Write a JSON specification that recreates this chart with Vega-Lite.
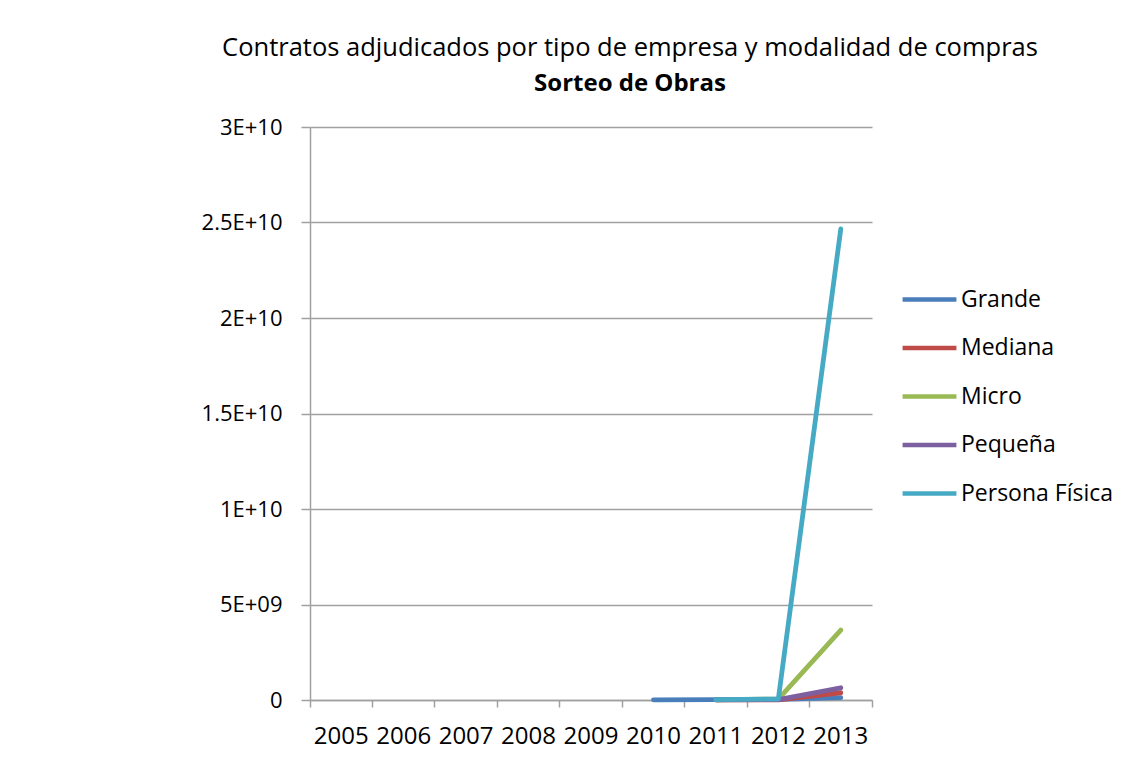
{
  "$schema": "https://vega.github.io/schema/vega-lite/v6.json",
  "autosize": "none",
  "width": 562,
  "height": 573,
  "padding": {"left": 310, "top": 127, "right": 259, "bottom": 80},
  "background": "white",
  "config": {
    "font": "Open Sans",
    "view": {"stroke": null}
  },
  "title": {
    "text": "Contratos adjudicados por tipo de empresa y modalidad de compras",
    "subtitle": "Sorteo de Obras",
    "anchor": "middle",
    "frame": "group",
    "dx": 39,
    "fontSize": 25.5,
    "fontWeight": "normal",
    "color": "#000000",
    "subtitleFontSize": 24,
    "subtitleFontWeight": "bold",
    "subtitleColor": "#000000",
    "subtitlePadding": 11,
    "offset": 20
  },
  "data": {
    "values": [
      {"year": "2010", "tipo": "Grande", "monto": 10000000},
      {"year": "2011", "tipo": "Grande", "monto": 20000000},
      {"year": "2012", "tipo": "Grande", "monto": 30000000},
      {"year": "2013", "tipo": "Grande", "monto": 120000000},
      {"year": "2011", "tipo": "Mediana", "monto": 5000000},
      {"year": "2012", "tipo": "Mediana", "monto": 10000000},
      {"year": "2013", "tipo": "Mediana", "monto": 380000000},
      {"year": "2011", "tipo": "Micro", "monto": 10000000},
      {"year": "2012", "tipo": "Micro", "monto": 50000000},
      {"year": "2013", "tipo": "Micro", "monto": 3660000000},
      {"year": "2011", "tipo": "Pequeña", "monto": 10000000},
      {"year": "2012", "tipo": "Pequeña", "monto": 20000000},
      {"year": "2013", "tipo": "Pequeña", "monto": 640000000},
      {"year": "2011", "tipo": "Persona Física", "monto": 20000000},
      {"year": "2012", "tipo": "Persona Física", "monto": 50000000},
      {"year": "2013", "tipo": "Persona Física", "monto": 24660000000}
    ]
  },
  "mark": {"type": "line", "strokeWidth": 4.8, "strokeCap": "round", "strokeJoin": "round"},
  "encoding": {
    "x": {
      "field": "year",
      "type": "ordinal",
      "bandPosition": 0.5,
      "scale": {"type": "band", "paddingInner": 0, "paddingOuter": 0, "domain": ["2005","2006","2007","2008","2009","2010","2011","2012","2013"]},
      "axis": {
        "title": null,
        "labelAngle": 0,
        "bandPosition": 1,
        "tickExtra": true,
        "grid": false,
        "domainColor": "#a0a0a0",
        "domainWidth": 1.5,
        "tickColor": "#a0a0a0",
        "tickWidth": 1.5,
        "tickSize": 7,
        "labelFontSize": 24,
        "labelColor": "#000000",
        "labelPadding": 17
      }
    },
    "y": {
      "field": "monto",
      "type": "quantitative",
      "scale": {"domain": [0, 30000000000]},
      "axis": {
        "title": null,
        "values": [0, 5000000000, 10000000000, 15000000000, 20000000000, 25000000000, 30000000000],
        "labelExpr": "datum.value == 0 ? '0' : (datum.value < 10000000000 ? format(datum.value / 1000000000, '~g') + 'E+09' : format(datum.value / 10000000000, '~g') + 'E+10')",
        "grid": true,
        "gridColor": "#a0a0a0",
        "gridWidth": 1.5,
        "domainColor": "#a0a0a0",
        "domainWidth": 1.5,
        "tickColor": "#a0a0a0",
        "tickWidth": 1.5,
        "tickSize": 9,
        "labelFontSize": 22,
        "labelColor": "#000000",
        "labelPadding": 19
      }
    },
    "color": {
      "field": "tipo",
      "type": "nominal",
      "scale": {
        "domain": ["Grande", "Mediana", "Micro", "Pequeña", "Persona Física"],
        "range": ["#4a7ebb", "#be4b48", "#98b954", "#7d60a0", "#46aac5"]
      },
      "legend": {
        "title": null,
        "orient": "none",
        "legendX": 590,
        "legendY": 143,
        "symbolType": "stroke",
        "symbolSize": 2900,
        "symbolStrokeWidth": 4.5,
        "labelFontSize": 23,
        "labelColor": "#000000",
        "labelOffset": 2,
        "rowPadding": 6.5
      }
    }
  }
}
